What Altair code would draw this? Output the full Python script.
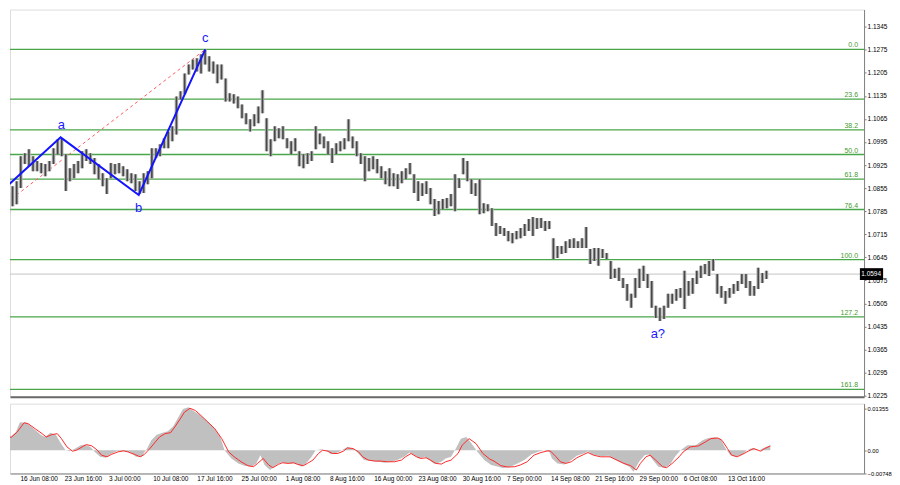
import altair as alt
import pandas as pd

# ---------------- data ----------------
# each entry = three consecutive 4-hour bars (high / low)
highs = [
    1.0840, 1.0861, 1.0876, 1.0952, 1.0961, 1.0973, 1.0952, 1.0937, 1.0931, 1.0928,
    1.0937, 1.0976, 1.1003, 1.1006, 1.0958, 1.0915, 1.0928, 1.0937, 1.0967, 1.0973,
    1.0961, 1.0946, 1.0928, 1.0900, 1.0885, 1.0931, 1.0928, 1.0931, 1.0921, 1.0912,
    1.0900, 1.0897, 1.0876, 1.0900, 1.0906, 1.0976, 1.0976, 1.0988, 1.1006, 1.1027,
    1.1043, 1.1133, 1.1149, 1.1203, 1.1230, 1.1245, 1.1249, 1.1261, 1.1276, 1.1255,
    1.1239, 1.1230, 1.1230, 1.1188, 1.1143, 1.1140, 1.1133, 1.1109, 1.1082, 1.1064,
    1.1079, 1.1103, 1.1152, 1.1067, 1.1003, 1.1043, 1.1037, 1.1043, 1.1006, 1.0997,
    1.1006, 1.0967, 1.0958, 1.0961, 1.0967, 1.1043, 1.1021, 1.1012, 1.0997, 1.0976,
    1.0991, 1.0997, 1.1006, 1.1064, 1.1012, 1.0997, 1.0961, 1.0952, 1.0946, 1.0952,
    1.0943, 1.0921, 1.0906, 1.0915, 1.0900, 1.0897, 1.0906, 1.0915, 1.0931, 1.0897,
    1.0876, 1.0870, 1.0876, 1.0855, 1.0822, 1.0816, 1.0822, 1.0825, 1.0837, 1.0897,
    1.0885, 1.0946, 1.0937, 1.0882, 1.0870, 1.0882, 1.0809, 1.0806, 1.0794, 1.0749,
    1.0740, 1.0734, 1.0725, 1.0719, 1.0725, 1.0734, 1.0746, 1.0761, 1.0767, 1.0764,
    1.0764, 1.0755, 1.0755, 1.0703, 1.0679, 1.0679, 1.0694, 1.0700, 1.0703, 1.0694,
    1.0703, 1.0737, 1.0670, 1.0673, 1.0673, 1.0670, 1.0658, 1.0634, 1.0610, 1.0613,
    1.0582, 1.0564, 1.0534, 1.0582, 1.0610, 1.0619, 1.0594, 1.0573, 1.0498, 1.0492,
    1.0498, 1.0534, 1.0534, 1.0549, 1.0552, 1.0604, 1.0573, 1.0582, 1.0604, 1.0619,
    1.0625, 1.0634, 1.0640, 1.0594, 1.0558, 1.0543, 1.0552, 1.0564, 1.0573, 1.0594,
    1.0594, 1.0573, 1.0558, 1.0613, 1.0597, 1.0604,
]
lows = [
    1.0776, 1.0800, 1.0806, 1.0855, 1.0928, 1.0921, 1.0906, 1.0906, 1.0900, 1.0891,
    1.0906, 1.0928, 1.0958, 1.0952, 1.0846, 1.0876, 1.0885, 1.0900, 1.0915, 1.0937,
    1.0928, 1.0897, 1.0882, 1.0861, 1.0837, 1.0885, 1.0897, 1.0900, 1.0891, 1.0876,
    1.0870, 1.0846, 1.0837, 1.0840, 1.0867, 1.0885, 1.0946, 1.0952, 1.0976, 1.0976,
    1.0997, 1.1018, 1.1124, 1.1140, 1.1200, 1.1215, 1.1209, 1.1203, 1.1230, 1.1209,
    1.1203, 1.1173, 1.1185, 1.1118, 1.1118, 1.1112, 1.1097, 1.1067, 1.1049, 1.1027,
    1.1043, 1.1052, 1.1082, 1.0967, 1.0952, 1.0997, 1.1006, 1.1003, 1.0976, 1.0958,
    1.0967, 1.0921, 1.0915, 1.0928, 1.0937, 1.0973, 1.0988, 1.0976, 1.0958, 1.0931,
    1.0958, 1.0967, 1.0973, 1.0997, 1.0976, 1.0952, 1.0928, 1.0876, 1.0906, 1.0912,
    1.0900, 1.0885, 1.0867, 1.0861, 1.0861, 1.0852, 1.0870, 1.0882, 1.0897, 1.0840,
    1.0816, 1.0831, 1.0837, 1.0806, 1.0770, 1.0776, 1.0791, 1.0794, 1.0800, 1.0785,
    1.0855, 1.0897, 1.0876, 1.0837, 1.0831, 1.0776, 1.0779, 1.0785, 1.0740, 1.0710,
    1.0716, 1.0710, 1.0694, 1.0688, 1.0700, 1.0703, 1.0710, 1.0725, 1.0710, 1.0731,
    1.0734, 1.0725, 1.0731, 1.0640, 1.0643, 1.0655, 1.0658, 1.0673, 1.0673, 1.0673,
    1.0673, 1.0673, 1.0625, 1.0634, 1.0619, 1.0643, 1.0640, 1.0579, 1.0582, 1.0573,
    1.0552, 1.0513, 1.0492, 1.0522, 1.0552, 1.0573, 1.0552, 1.0492, 1.0461, 1.0452,
    1.0458, 1.0492, 1.0504, 1.0513, 1.0522, 1.0488, 1.0528, 1.0534, 1.0564, 1.0582,
    1.0594, 1.0588, 1.0604, 1.0534, 1.0522, 1.0504, 1.0522, 1.0534, 1.0543, 1.0564,
    1.0552, 1.0528, 1.0528, 1.0549, 1.0567, 1.0579,
]
n_bars = min(len(highs), len(lows))
bar_idx = [3 * k + 1 for k in range(n_bars)]   # position in 4-hour bars

date_labels = ["16 Jun 08:00", "23 Jun 16:00", "3 Jul 00:00", "10 Jul 08:00",
               "17 Jul 16:00", "25 Jul 00:00", "1 Aug 08:00", "8 Aug 16:00",
               "16 Aug 00:00", "23 Aug 08:00", "30 Aug 16:00", "7 Sep 00:00",
               "14 Sep 08:00", "21 Sep 16:00", "29 Sep 00:00", "6 Oct 08:00",
               "13 Oct 16:00"]
date_label_idx = [13 + 32 * n for n in range(len(date_labels))]

price_ticks = [1.1345, 1.1275, 1.1205, 1.1135, 1.1065, 1.0995, 1.0925, 1.0855,
               1.0785, 1.0715, 1.0645, 1.0575, 1.0505, 1.0435, 1.0365, 1.0295, 1.0225]

fib_levels = ["0.0", "23.6", "38.2", "50.0", "61.8", "76.4", "100.0", "127.2", "161.8"]
fib_prices = [1.1276, 1.1125, 1.1032, 1.0957, 1.0882, 1.0790, 1.0638, 1.0464, 1.0244]

wave_idx = [0, 39.2, 96.4, 145.1]
wave_price = [1.0861, 1.1009, 1.0834, 1.1276]
wave_labels = ["a", "b", "c", "a?"]
wave_label_idx = [39.7, 96.3, 145.0, 476.5]
wave_label_price = [1.1046, 1.0794, 1.1312, 1.0413]

dash_idx = [0, 145.1]
dash_price = [1.0812, 1.1276]

last_price = 1.0594

macd_idx = [0, 5, 10, 13, 18, 23, 28, 31, 35, 39, 42, 46, 49, 53, 57, 60, 64, 67, 71, 75,
            78, 83, 88, 93, 97, 101, 105, 108, 112, 116, 120, 124, 128, 131, 135, 138, 143,
            148, 153, 158, 161, 166, 171, 176, 181, 184, 187, 190, 194, 199, 202, 207, 212,
            217, 220, 224, 227, 231, 235, 238, 243, 247, 250, 255, 259, 262, 267, 272, 277,
            282, 286, 291, 295, 298, 302, 306, 309, 313, 318, 321, 325, 329, 332, 336, 339,
            344, 349, 354, 359, 363, 368, 373, 378, 383, 388, 392, 396, 398, 402, 407, 412,
            416, 421, 424, 427, 433, 439, 444, 449, 454, 457, 461, 465, 468, 472, 475, 480,
            484, 487, 491, 496, 502, 507, 511, 516, 520, 523, 527, 531, 536, 539, 543, 548,
            551, 556]
macd_vals = [0.00376, 0.00397, 0.00590, 0.00912, 0.00891, 0.00697, 0.00504, 0.00429, 0.00569,
             0.00504, 0.00268, 0.0, -0.00032, 0.00054, 0.00161, 0.00182, 0.00107, -0.00054,
             -0.00215, -0.00247, -0.00139, -0.00032, -0.00032, -0.00075, -0.00215, -0.00215,
             0.00054, 0.00322, 0.00504, 0.00569, 0.00612, 0.00783, 0.01105, 0.01341, 0.01395,
             0.01288, 0.01148, 0.00966, 0.00751, 0.00429, 0.0, -0.00268, -0.00429, -0.00515,
             -0.00537, -0.00429, -0.00161, -0.00483, -0.00644, -0.00461, -0.00397, -0.00429,
             -0.00429, -0.00537, -0.00429, -0.00215, 0.0, 0.00032, -0.00032, -0.00129, -0.00075,
             0.00032, 0.00107, 0.00032, -0.00161, -0.00322, -0.00354, -0.00376, -0.00408,
             -0.00376, -0.00322, -0.00215, -0.00075, -0.00161, -0.00268, -0.00215, -0.00322,
             -0.00451, -0.00376, -0.00268, -0.00215, 0.00107, 0.00376, 0.00429, 0.00268,
             -0.00054, -0.00322, -0.00483, -0.00537, -0.00590, -0.00537, -0.00429, -0.00322,
             -0.00139, -0.00054, 0.0, -0.00054, -0.00268, -0.00429, -0.00461, -0.00322,
             -0.00182, -0.00107, -0.00032, -0.00139, -0.00193, -0.00182, -0.00322, -0.00429,
             -0.00537, -0.00697, -0.00376, -0.00161, -0.00139, -0.00376, -0.00537, -0.00569,
             -0.00429, -0.00215, 0.0, 0.00161, 0.00161, 0.00322, 0.00397, 0.00418, 0.00376,
             0.00107, -0.00161, -0.00215, -0.00139, 0.0, 0.00075, 0.0, 0.00075, 0.00161]

signal_idx = [0, 7, 11, 16, 19, 24, 29, 32, 36, 40, 43, 47, 51, 54, 58, 61, 65, 69, 72, 76,
              79, 84, 88, 91, 96, 100, 103, 107, 111, 114, 118, 122, 125, 129, 132, 136, 140,
              144, 149, 154, 159, 164, 168, 173, 178, 182, 185, 189, 193, 196, 200, 203, 207,
              211, 214, 218, 221, 225, 229, 232, 236, 239, 243, 247, 250, 254, 258, 261, 265,
              270, 274, 279, 284, 289, 292, 296, 300, 303, 307, 310, 314, 318, 321, 325, 330,
              333, 338, 343, 348, 353, 356, 361, 366, 371, 375, 380, 385, 390, 395, 397, 401,
              404, 408, 412, 416, 421, 424, 428, 433, 440, 445, 450, 455, 459, 462, 466, 469,
              473, 478, 481, 485, 490, 493, 498, 504, 509, 513, 518, 521, 525, 528, 532, 537,
              540, 544, 549, 552, 556]
signal_vals = [0.00376, 0.00429, 0.00590, 0.00891, 0.00858, 0.00697, 0.00537, 0.00429, 0.00504,
               0.00537, 0.00376, 0.00107, -0.00032, 0.0, 0.00107, 0.00182, 0.00139, 0.0,
               -0.00161, -0.00215, -0.00139, -0.00054, -0.00021, -0.00054, -0.00139, -0.00215,
               -0.00139, 0.00054, 0.00268, 0.00429, 0.00537, 0.00569, 0.00751, 0.01019, 0.01234,
               0.01363, 0.01288, 0.01127, 0.00912, 0.00697, 0.00376, -0.00054, -0.00215, -0.00376,
               -0.00504, -0.00537, -0.00429, -0.00268, -0.00483, -0.00569, -0.00461, -0.00408,
               -0.00429, -0.00408, -0.00461, -0.00504, -0.00429, -0.00322, -0.00107, 0.0,
               -0.00032, -0.00107, -0.00107, -0.00032, 0.00075, 0.00054, -0.00054, -0.00215,
               -0.00322, -0.00354, -0.00354, -0.00376, -0.00376, -0.00322, -0.00215, -0.00107,
               -0.00215, -0.00268, -0.00247, -0.00322, -0.00429, -0.00451, -0.00376, -0.00322,
               -0.00107, 0.00161, 0.00376, 0.00215, -0.00107, -0.00290, -0.00354, -0.00504,
               -0.00547, -0.00537, -0.00483, -0.00376, -0.00161, -0.00075, -0.00021, -0.00032,
               -0.00215, -0.00376, -0.00429, -0.00376, -0.00247, -0.00139, -0.00075, -0.00161,
               -0.00215, -0.00215, -0.00322, -0.00429, -0.00504, -0.00644, -0.00429, -0.00215,
               -0.00161, -0.00322, -0.00537, -0.00569, -0.00429, -0.00215, -0.00054, 0.00107,
               0.00139, 0.00268, 0.00376, 0.00397, 0.00322, 0.00054, -0.00161, -0.00215,
               -0.00107, -0.00032, 0.00054, -0.00032, 0.00054, 0.00139]

macd_ticks = [0.01355, 0.0, -0.00748]

# ---------------- scales / styling ----------------
W = 856                      # plot width (px)
PX_PER_BAR = 1.385
X_MIN = 5.78
X_MAX = X_MIN + W / PX_PER_BAR
P_MIN, P_MAX = 1.0222, 1.1397
M_MIN, M_MAX = -0.00757, 0.01513
FONT = "Liberation Sans"

xs = alt.Scale(domain=[X_MIN, X_MAX], nice=False, zero=False)
ys = alt.Scale(domain=[P_MIN, P_MAX], nice=False, zero=False)
ms = alt.Scale(domain=[M_MIN, M_MAX], nice=False, zero=False)

x_axis_main = alt.Axis(orient="bottom", labels=False, ticks=False, grid=False, title=None,
                       domain=True, domainColor="#6a6a6a", domainWidth=2)
y_axis_main = alt.Axis(orient="right", values=price_ticks, format=".4f", grid=False, title=None,
                       labelFont=FONT, labelFontSize=6.5, labelColor="#000000",
                       tickSize=2, tickColor="#808080", domainColor="#808080",
                       labelPadding=1)

js_labels = "[" + ",".join("'" + s + "'" for s in date_labels) + "]"
x_axis_ind = alt.Axis(orient="bottom", values=date_label_idx, grid=False, title=None,
                      labelExpr=js_labels + "[round((datum.value-13)/32)]",
                      labelAlign="left", labelFont=FONT, labelFontSize=6.5,
                      labelColor="#000000", ticks=False,
                      domainColor="#808080", labelPadding=2, labelFlush=False)
y_axis_ind = alt.Axis(orient="right", values=macd_ticks, grid=False, title=None,
                      labelExpr="datum.value == 0 ? '0.00' : format(datum.value, '.5f')",
                      labelFont=FONT, labelFontSize=5.8, labelColor="#000000",
                      tickSize=2, tickColor="#808080", domainColor="#808080",
                      labelPadding=1)


def X(field):
    return alt.X(field, type="quantitative", scale=xs, axis=x_axis_main)


def Y(field):
    return alt.Y(field, type="quantitative", scale=ys, axis=y_axis_main)


bars_df = pd.DataFrame({"i": bar_idx[:n_bars], "hi": highs[:n_bars], "lo": lows[:n_bars]})
fib_df = pd.DataFrame({"lvl": fib_levels, "p": fib_prices, "xe": [X_MAX] * len(fib_levels)})
wave_df = pd.DataFrame({"i": wave_idx, "p": wave_price, "o": list(range(len(wave_idx)))})
wlab_df = pd.DataFrame({"i": wave_label_idx, "p": wave_label_price, "t": wave_labels})
dash_df = pd.DataFrame({"i": dash_idx, "p": dash_price})
last_df = pd.DataFrame({"p": [last_price], "lo": [last_price - 0.0018],
                        "hi": [last_price + 0.0018], "x1": [X_MAX + 0.6],
                        "x2": [X_MAX + 17.6], "xt": [X_MAX + 1.6],
                        "t": [f"{last_price:.4f}"]})

fib_rules = alt.Chart(fib_df).mark_rule(color="#4aa64a", strokeWidth=1.3).encode(y=Y("p"))
fib_text = alt.Chart(fib_df).mark_text(align="right", baseline="bottom", dx=-1, dy=-1,
                                       font=FONT, fontSize=7, color="#3f9a2f").encode(
    x=X("xe"), y=Y("p"), text="lvl:N")
last_rule = alt.Chart(last_df).mark_rule(color="#c4c4c4", strokeWidth=1).encode(y=Y("p"))
dash_line = alt.Chart(dash_df).mark_line(color="#ff5a5a", strokeWidth=1, strokeDash=[3, 3],
                                         clip=True).encode(x=X("i"), y=Y("p"))
bars_bg = alt.Chart(bars_df).mark_bar(color="#b4b4b4", width=3.6, clip=True).encode(
    x=X("i"), y=Y("lo"), y2="hi")
bars = alt.Chart(bars_df).mark_rule(color="#474747", strokeWidth=1.6, clip=True).encode(
    x=X("i"), y=Y("lo"), y2="hi")
wave = alt.Chart(wave_df).mark_line(color="#1414ff", strokeWidth=2, clip=True).encode(
    x=X("i"), y=Y("p"), order="o:Q")
wave_text = alt.Chart(wlab_df).mark_text(font=FONT, fontSize=13, color="#1a1aff").encode(
    x=X("i"), y=Y("p"), text="t:N")
tag_box = alt.Chart(last_df).mark_rect(color="#000000", clip=False).encode(
    x=X("x1"), x2="x2", y=Y("lo"), y2="hi")
tag_text = alt.Chart(last_df).mark_text(align="left", baseline="middle", font=FONT,
                                        fontSize=6.5, color="#ffffff", clip=False).encode(
    x=X("xt"), y=Y("p"), text="t:N")

main = alt.layer(fib_rules, fib_text, last_rule, dash_line, bars_bg, bars, wave, wave_text,
                 tag_box, tag_text).properties(width=W, height=388)

macd_df = pd.DataFrame({"i": macd_idx, "v": macd_vals})
sig_df = pd.DataFrame({"i": signal_idx, "v": signal_vals})

hist = alt.Chart(macd_df).mark_area(color="#c0c0c0", clip=True).encode(
    x=alt.X("i:Q", scale=xs, axis=x_axis_ind),
    y=alt.Y("v:Q", scale=ms, axis=y_axis_ind),
    y2=alt.datum(0))
sig = alt.Chart(sig_df).mark_line(color="#ff2a2a", strokeWidth=1, clip=True).encode(
    x=alt.X("i:Q", scale=xs, axis=x_axis_ind),
    y=alt.Y("v:Q", scale=ms, axis=y_axis_ind))

ind = alt.layer(hist, sig).properties(width=W, height=70)

chart = alt.vconcat(main, ind, spacing=2).properties(
    padding=0, background="#ffffff"
).configure_view(stroke=None).configure(font=FONT)

chart.save("out.html", embed_options={"renderer": "svg", "actions": False})
